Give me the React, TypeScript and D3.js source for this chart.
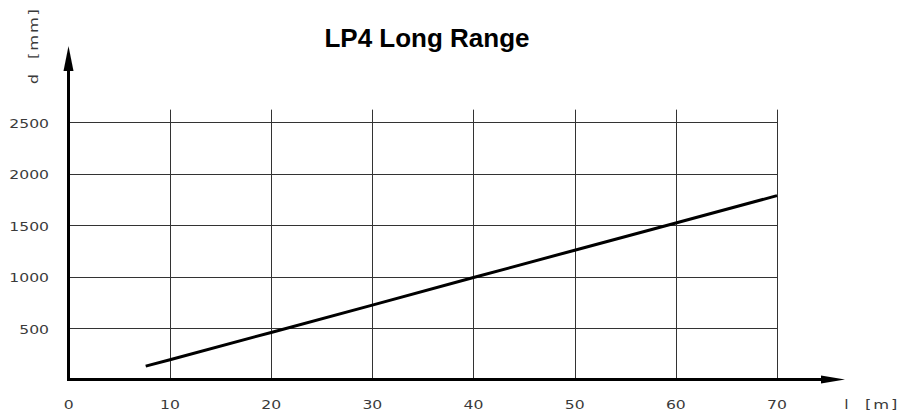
import { useEffect, useRef } from "react";
import * as d3 from "d3";

// values
const xTicks = [0, 10, 20, 30, 40, 50, 60, 70];
const yTicks = [500, 1000, 1500, 2000, 2500];
const lengthM = [7.6, 10, 20, 30, 40, 50, 60, 70];
const diameterMm = [130, 192, 457, 722, 990, 1255, 1520, 1785];

const title = "LP4 Long Range";
const xUnit = "l";
const xUnitBracket = "[m]";
const yUnit = "d";
const yUnitBracket = "[mm]";

const W = 900;
const H = 419;

export default function App() {
  const svgRef = useRef<SVGSVGElement>(null);

  useEffect(() => {
    if (!svgRef.current) return;
    const svg = d3.select(svgRef.current);
    svg.selectAll("*").remove();

    const x = d3.scaleLinear().domain([0, 70]).range([68.8, 777]);
    const y = d3.scaleLinear().domain([0, 2500]).range([379.5, 122]);
    const gridTop = 2620;
    const font = "'DejaVu Sans', sans-serif";
    const sx = 1.2; // wide technical lettering

    // text drawn with a horizontal stretch
    const label = (
      parent: d3.Selection<any, unknown, null, undefined>,
      tx: number,
      ty: number,
      txt: string,
      anchor: string,
      size = 13,
      spacing = 0,
      stretch = sx
    ) =>
      parent
        .append("text")
        .attr("transform", `translate(${tx},${ty}) scale(${stretch},1)`)
        .attr("dominant-baseline", "central")
        .attr("text-anchor", anchor)
        .attr("font-family", font)
        .attr("font-size", size)
        .attr("letter-spacing", spacing)
        .attr("fill", "#3a3a3a")
        .text(txt);

    // Grid
    const grid = svg.append("g").attr("stroke", "#333").attr("stroke-width", 1);
    grid
      .selectAll(".h")
      .data(yTicks)
      .enter()
      .append("line")
      .attr("x1", x(0))
      .attr("x2", x(70))
      .attr("y1", (d) => Math.round(y(d)) + 0.5)
      .attr("y2", (d) => Math.round(y(d)) + 0.5);
    grid
      .selectAll(".v")
      .data(xTicks.slice(1))
      .enter()
      .append("line")
      .attr("x1", (d) => Math.round(x(d)) + 0.5)
      .attr("x2", (d) => Math.round(x(d)) + 0.5)
      .attr("y1", y(0))
      .attr("y2", y(gridTop));

    // Data line
    const line = d3
      .line<number>()
      .x((_, i) => x(lengthM[i]))
      .y((d) => y(d));
    svg
      .append("path")
      .attr("d", line(diameterMm) as string)
      .attr("fill", "none")
      .attr("stroke", "#000")
      .attr("stroke-width", 3);

    // Axes with arrows
    const ax = x(0) - 0.3;
    const ay = y(0);
    svg
      .append("line")
      .attr("x1", ax)
      .attr("x2", ax)
      .attr("y1", ay + 1.5)
      .attr("y2", 70)
      .attr("stroke", "#000")
      .attr("stroke-width", 3);
    svg
      .append("path")
      .attr("d", `M${ax},46 L${ax + 5},71 L${ax - 5},71 Z`)
      .attr("fill", "#000");
    svg
      .append("line")
      .attr("x1", ax - 1.5)
      .attr("x2", 823)
      .attr("y1", ay)
      .attr("y2", ay)
      .attr("stroke", "#000")
      .attr("stroke-width", 3);
    svg
      .append("path")
      .attr("d", `M845,${ay} L821,${ay - 4} L821,${ay + 4} Z`)
      .attr("fill", "#000");

    // Tick labels
    xTicks.forEach((d) => label(svg, x(d), 404, String(d), "middle"));
    yTicks.forEach((d) => label(svg, 49, y(d) + 1, String(d), "end"));

    // Unit labels
    label(svg, 846.5, 404, xUnit, "middle");
    label(svg, 865, 404, xUnitBracket, "start", 13, 1.5, 1.25);

    const yl = svg.append("g").attr("transform", "translate(33,0) rotate(-90)");
    label(yl, -79, 0, yUnit, "middle");
    label(yl, -59, 0, yUnitBracket, "start", 13, 1.5, 1.25);

    // Title
    svg
      .append("text")
      .attr("x", 427)
      .attr("y", 47)
      .attr("text-anchor", "middle")
      .attr("font-family", "'Liberation Sans', Arial, sans-serif")
      .attr("font-weight", "bold")
      .attr("font-size", 26)
      .attr("fill", "#000")
      .text(title);
  }, []);

  return (
    <svg
      ref={svgRef}
      width={W}
      height={H}
      style={{ position: "absolute", left: 0, top: 0, background: "#fff" }}
    />
  );
}
